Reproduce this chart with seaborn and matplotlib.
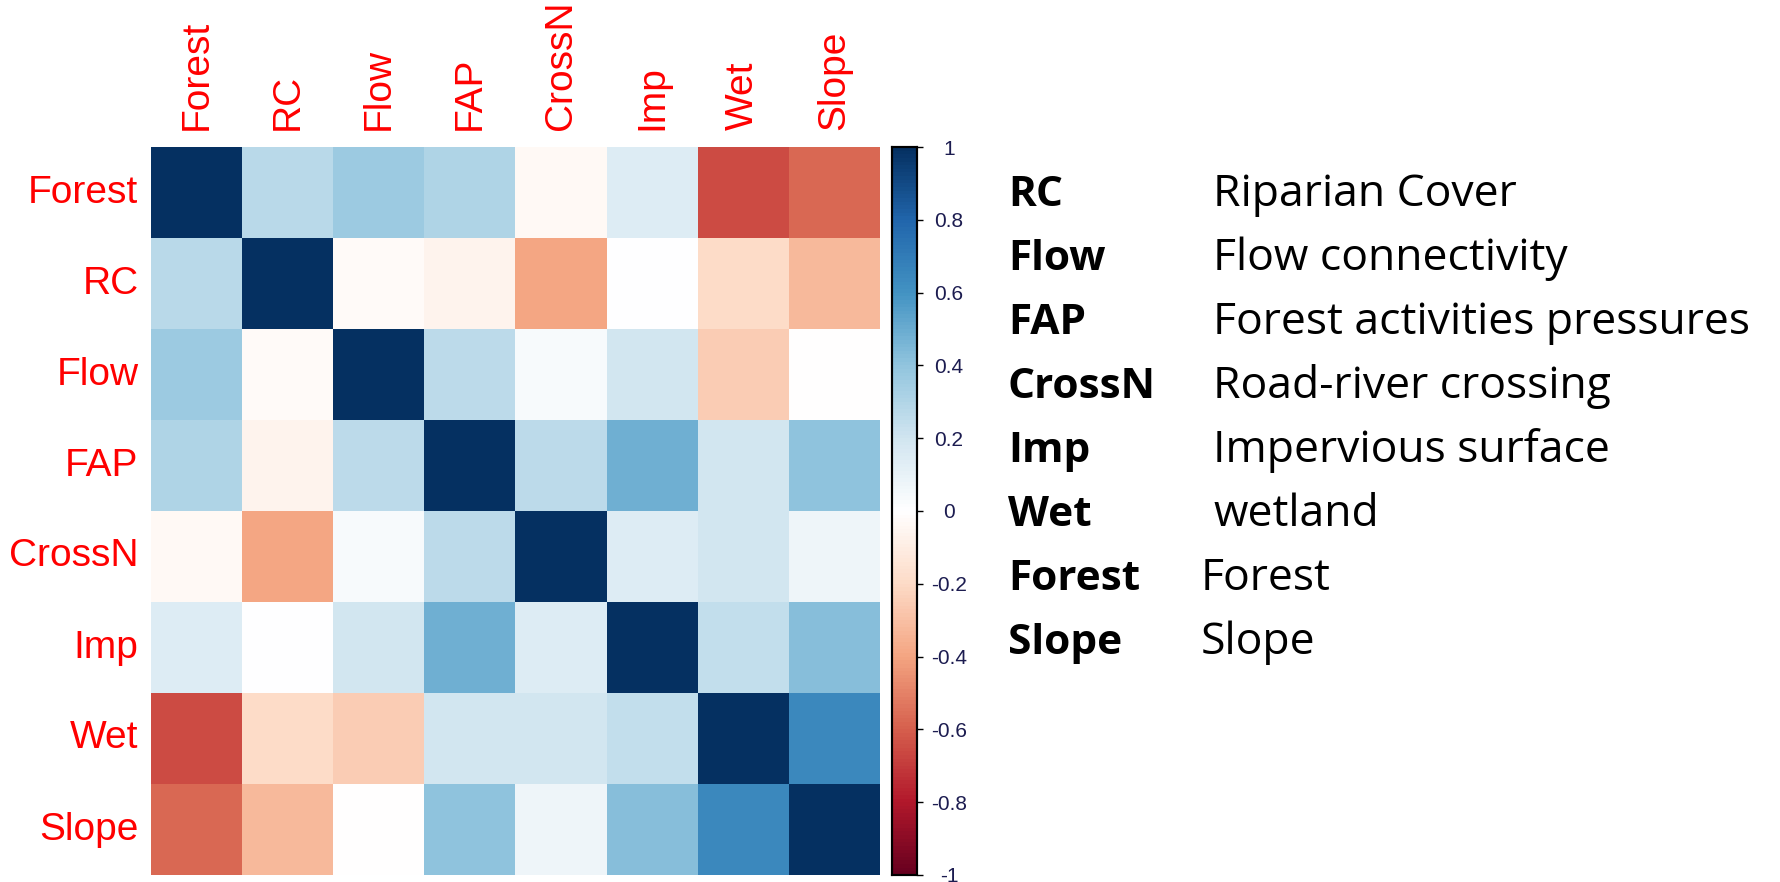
import numpy as np
import pandas as pd
import matplotlib.pyplot as plt
from matplotlib.colors import LinearSegmentedColormap
import seaborn as sns

# Correlation matrix
variables = ['Forest', 'RC', 'Flow', 'FAP', 'CrossN', 'Imp', 'Wet', 'Slope']
forest = [1.00, 0.27, 0.36, 0.30, -0.04, 0.14, -0.66, -0.58]
rc = [0.27, 1.00, -0.03, -0.07, -0.40, 0.00, -0.20, -0.33]
flow = [0.36, -0.03, 1.00, 0.26, 0.03, 0.19, -0.26, -0.01]
fap = [0.30, -0.07, 0.26, 1.00, 0.26, 0.48, 0.19, 0.40]
crossn = [-0.04, -0.40, 0.03, 0.26, 1.00, 0.15, 0.19, 0.07]
imp = [0.14, 0.00, 0.19, 0.48, 0.15, 1.00, 0.24, 0.42]
wet = [-0.66, -0.20, -0.26, 0.19, 0.19, 0.24, 1.00, 0.64]
slope = [-0.58, -0.33, -0.01, 0.40, 0.07, 0.42, 0.64, 1.00]

# Legend: abbreviation -> meaning
abbrevs = ['RC', 'Flow', 'FAP', 'CrossN', 'Imp', 'Wet', 'Forest', 'Slope']
meanings = ['Riparian Cover', 'Flow connectivity', 'Forest activities pressures',
            'Road-river crossing', 'Impervious surface', 'wetland', 'Forest', 'Slope']

corr = pd.DataFrame([forest, rc, flow, fap, crossn, imp, wet, slope],
                    index=variables, columns=variables)

# corrplot-style RdBu (white centre)
cmap = LinearSegmentedColormap.from_list('corrRdBu', [
    '#67001F', '#B2182B', '#D6604D', '#F4A582', '#FDDBC7', '#FFFFFF',
    '#D1E5F0', '#92C5DE', '#4393C3', '#2166AC', '#053061'], N=200)

sns.set_style('white')
fig = plt.figure(figsize=(17.81, 8.82), dpi=100)
W, H = 1781, 882
ax = fig.add_axes([151 / W, 1 - 875 / H, 729 / W, 728 / H])
cax = fig.add_axes([892 / W, 1 - 875 / H, 25 / W, 728 / H])

sns.heatmap(corr, ax=ax, cbar_ax=cax, cmap=cmap, vmin=-1, vmax=1,
            linewidths=0, square=False)

ax.xaxis.tick_top()
ax.set_xticklabels(variables, rotation=90, color='red', fontsize=28,
                   family='Liberation Sans')
ax.set_yticklabels(variables, rotation=0, color='red', fontsize=28,
                   family='Liberation Sans')
ax.tick_params(axis='x', length=0, pad=12)
ax.tick_params(axis='y', length=0, pad=9)
ax.set_xlabel('')
ax.set_ylabel('')

# colorbar
ticks = np.round(np.arange(-1, 1.01, 0.2), 1)
cax.set_yticks(ticks)
cax.set_yticklabels(['%g' % t if t != 0 else '0' for t in ticks],
                    fontsize=15, family='Liberation Sans', color='#1c1c50',
                    ha='center')
cax.tick_params(axis='y', length=4, width=1, pad=19, colors='black',
                labelcolor='#1c1c50')
for sp in cax.spines.values():
    sp.set_visible(True)
    sp.set_color('black')
    sp.set_linewidth(1.5)

# legend text on the right
y0 = 206
for i, (a, m) in enumerate(zip(abbrevs, meanings)):
    y = y0 + i * 64
    fig.text(1008 / W, 1 - y / H, a, fontsize=30.5, fontweight='bold',
             family='Open Sans', va='baseline', ha='left', color='black')
    xm = 1201 if a in ('Forest', 'Slope') else 1213
    fig.text(xm / W, 1 - y / H, m, fontsize=32, family='Open Sans',
             va='baseline', ha='left', color='black')

fig.savefig('out.png', dpi=100)
